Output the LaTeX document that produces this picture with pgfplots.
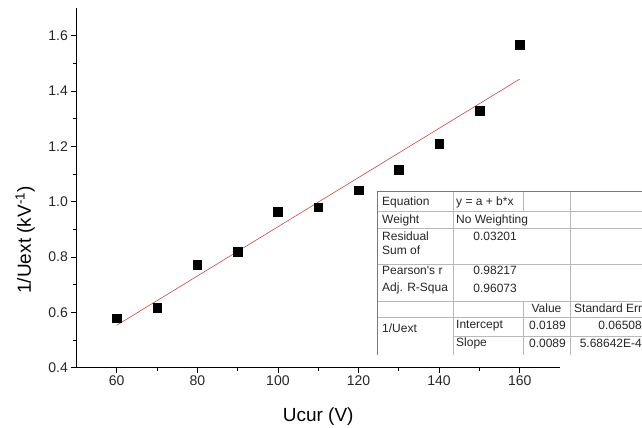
\documentclass[border=0pt]{standalone}
\usepackage{fontspec}
\setmainfont{Liberation Sans}
\usepackage{pgfplots}
\pgfplotsset{compat=1.18}
\definecolor{fitred}{RGB}{205,70,70}
\definecolor{tabline}{RGB}{185,185,185}
\definecolor{tabedge}{RGB}{120,120,120}
\begin{document}
\begin{tikzpicture}[x=1pt,y=1pt]
\useasboundingbox (0,0) rectangle (642,428);
\clip (0,0) rectangle (642,428);
\begin{axis}[
  at={(76.4pt,60.4pt)}, anchor=south west,
  scale only axis, width=483.6pt, height=359.6pt,
  xmin=50, xmax=170, ymin=0.4, ymax=1.7,
  axis x line*=bottom, axis y line*=left,
  axis line style={-, black, line width=0.8pt},
  xtick={60,80,100,120,140,160},
  ytick={0.4,0.6,0.8,1.0,1.2,1.4,1.6},
  minor x tick num=1, minor y tick num=1,
  tick align=outside,
  major tick length=5pt, minor tick length=3pt,
  tick style={black, line width=0.8pt},
  yticklabel style={/pgf/number format/.cd, fixed, fixed zerofill, precision=1},
  /pgf/number format/assume math mode=true,
  ticklabel style={font=\fontsize{14}{16}\selectfont, text=black!85},
  xlabel={Ucur (V)},
  ylabel={1/Uext (kV\textsuperscript{-1})},
  label style={font=\fontsize{19}{22}\selectfont},
  x label style={at={(axis description cs:0.5,-0.137)}, anchor=center},
  y label style={at={(axis description cs:-0.106,0.355)}, anchor=center},
  clip=false,
]
\addplot[fitred, line width=0.6pt] coordinates {(60,0.553) (160,1.443)};
\addplot[only marks, mark=square*, mark size=4.3pt, black] coordinates {
  (60,0.578) (70,0.617) (80,0.771) (90,0.819) (100,0.964) (110,0.980)
  (120,1.042) (130,1.115) (140,1.209) (150,1.329) (160,1.568)};
\end{axis}
% fit statistics table (annotation)
\fill[white] (377,73) rectangle (650,237);
\begin{scope}[line width=0.6pt, tabline]
  \draw (377,217) -- (650,217);
  \draw (377,200) -- (650,200);
  \draw (377,164) -- (650,164);
  \draw (377,127) -- (650,127);
  \draw (377,111) -- (650,111);
  \draw (453,92) -- (650,92);
  \draw (453,237) -- (453,73);
  \draw (523,237) -- (523,217);
  \draw (523,127) -- (523,73);
  \draw (570,237) -- (570,73);
  \draw (646,237) -- (646,73);
\end{scope}
\draw[tabedge, line width=0.7pt] (377,73) -- (377,237) -- (650,237);
\begin{scope}[every node/.style={font=\fontsize{12}{13}\selectfont, inner sep=0pt, text=black!85}]
  \node[anchor=west] at (382,226) {Equation};
  \node[anchor=west] at (382,207.7) {Weight};
  \node[anchor=west] at (382,191.7) {Residual};
  \node[anchor=west] at (382,177.3) {Sum of};
  \node[anchor=west] at (382,157.3) {Pearson\textquotesingle s r};
  \node[anchor=west] at (382,140) {Adj. R-Squa};
  \node[anchor=west] at (382,100) {1/Uext};
  \node[anchor=west] at (456,226) {y = a + b*x};
  \node[anchor=west] at (456,207.7) {No Weighting};
  \node[anchor=east] at (517,191.7) {0.03201};
  \node[anchor=east] at (517,157.3) {0.98217};
  \node[anchor=east] at (517,140) {0.96073};
  \node[anchor=west] at (456,102.7) {Intercept};
  \node[anchor=west] at (456,85) {Slope};
  \node[anchor=center] at (546.5,120) {Value};
  \node[anchor=east] at (566,102.7) {0.0189};
  \node[anchor=east] at (566,85) {0.0089};
  \node[anchor=west] at (574,120) {Standard Err};
  \node[anchor=east] at (642,102.7) {0.06508};
  \node[anchor=east] at (642,85) {5.68642E-4};
\end{scope}
\end{tikzpicture}
\end{document}
